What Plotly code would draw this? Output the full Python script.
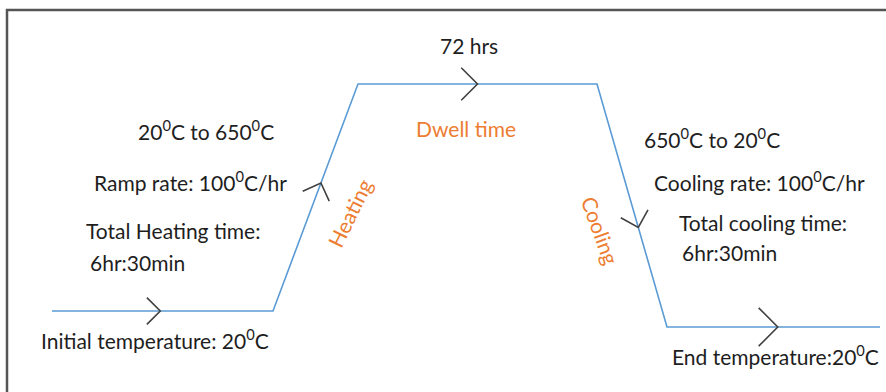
import math
import plotly.graph_objects as go

# Schematic heat-treatment profile (drawing units)
stage_x = [52, 273, 358, 597, 667, 880]
stage_y = [311, 311, 84, 84, 327, 327]

# Direction chevrons: fraction along each segment, size
arrow_frac = [0.49, 0.564, 0.50, 0.59, 0.52]
arrow_size = [19, 20, 23, 20, 27]

# Labels: text, x, y, colour key, anchor, angle
labels = [
    ("72 hrs", 469, 45, "dark", "center", 0),
    ("20<sup>0</sup>C to 650<sup>0</sup>C", 206, 130, "dark", "center", 0),
    ("Ramp rate: 100<sup>0</sup>C/hr", 190, 181, "dark", "center", 0),
    ("Total Heating time:", 84, 230, "dark", "left", 0),
    ("6hr:30min", 88, 262, "dark", "left", 0),
    ("Dwell time", 466, 128, "orange", "center", 0),
    ("Heating", 349, 213, "orange", "center", -64),
    ("Cooling", 601, 230, "orange", "center", 70),
    ("650<sup>0</sup>C to 20<sup>0</sup>C", 712, 138, "dark", "center", 0),
    ("Cooling rate: 100<sup>0</sup>C/hr", 759, 181, "dark", "center", 0),
    ("Total cooling time:", 677, 222, "dark", "left", 0),
    ("6hr:30min", 680, 252, "dark", "left", 0),
    ("Initial temperature: 20<sup>0</sup>C", 155, 339, "dark", "center", 0),
    ("End temperature:20<sup>0</sup>C", 775, 355, "dark", "center", 0),
]

colors = {"dark": "#1e1e1e", "orange": "#ED7D31"}

fig = go.Figure()

# frame (top and left edges)
fig.add_trace(go.Scatter(x=[7, 7, 886], y=[392, 10, 10], mode="lines",
                         line=dict(color="#555555", width=2.5),
                         hoverinfo="skip", showlegend=False))

# profile line
fig.add_trace(go.Scatter(x=stage_x, y=stage_y, mode="lines",
                         line=dict(color="#5B9BD5", width=1.6),
                         hoverinfo="skip", showlegend=False))

# chevrons
cx, cy = [], []
for i, (f, s) in enumerate(zip(arrow_frac, arrow_size)):
    x0, y0, x1, y1 = stage_x[i], stage_y[i], stage_x[i + 1], stage_y[i + 1]
    px, py = x0 + f * (x1 - x0), y0 + f * (y1 - y0)
    L = math.hypot(x1 - x0, y1 - y0)
    bx, by = -(x1 - x0) / L, -(y1 - y0) / L
    arms = []
    for ang in (math.radians(45), math.radians(-45)):
        ax = bx * math.cos(ang) - by * math.sin(ang)
        ay = bx * math.sin(ang) + by * math.cos(ang)
        arms.append((px + s * ax, py + s * ay))
    cx += [arms[0][0], px, arms[1][0], None]
    cy += [arms[0][1], py, arms[1][1], None]
fig.add_trace(go.Scatter(x=cx, y=cy, mode="lines",
                         line=dict(color="#404040", width=1.6),
                         hoverinfo="skip", showlegend=False))

for text, x, y, c, anchor, ang in labels:
    fig.add_annotation(x=x, y=y, xref="x", yref="y", text=text, showarrow=False,
                       xanchor=anchor, yanchor="middle", textangle=ang,
                       font=dict(family="Lato", size=21, color=colors[c]))

fig.update_layout(
    width=886, height=392,
    margin=dict(l=0, r=0, t=0, b=0),
    paper_bgcolor="white", plot_bgcolor="white",
    xaxis=dict(range=[0, 886], visible=False, fixedrange=True),
    yaxis=dict(range=[392, 0], visible=False, fixedrange=True),
)

fig.write_html("out.html", config={"displayModeBar": False},
               post_script="document.body.style.margin='0px';document.body.style.overflow='hidden';")
